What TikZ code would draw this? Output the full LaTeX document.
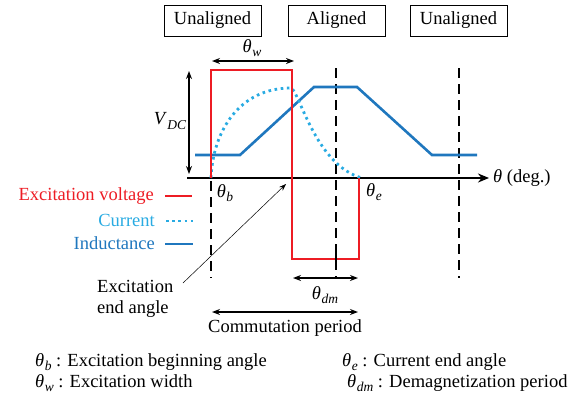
\documentclass[tikz,border=0pt]{standalone}
\usepackage{fontspec}
\setmainfont{Liberation Serif}
\newfontfamily\tnr{Liberation Serif}
\usetikzlibrary{arrows.meta}
\definecolor{exred}{RGB}{237,28,36}
\definecolor{curcyan}{RGB}{41,171,226}
\definecolor{indblue}{RGB}{31,119,190}
\newcommand\ang[1]{\textit{θ}\kern0.5pt\raisebox{-0.22em}{\fontsize{13.5}{14}\selectfont\textit{#1}}}
\begin{document}
\begin{tikzpicture}[x=1pt,y=-1pt,
  font=\tnr\fontsize{18.5}{21}\selectfont,
  statebox/.style={draw=black, line width=0.8pt, inner sep=0pt, minimum width=97pt, minimum height=31pt},
  dashline/.style={draw=black, line width=2.6pt, dash pattern=on 10pt off 6pt},
  voltline/.style={draw=exred, line width=2pt},
  indline/.style={draw=indblue, line width=2.6pt},
  curline/.style={draw=curcyan, line width=2.8pt, dash pattern=on 2.6pt off 3.6pt},
  axisline/.style={draw=black, line width=2.6pt, -{Stealth[length=11pt,width=9pt]}},
  dimarrow/.style={draw=black, line width=1.4pt, {Stealth[length=8pt,width=6pt]}-{Stealth[length=8pt,width=6pt]}},
  pointer/.style={draw=black, line width=0.5pt, -{Stealth[length=7pt,width=5pt]}},
  lbl/.style={inner sep=0pt}
]
\useasboundingbox (0,0) rectangle (586,399);

% state boxes
\node[statebox] (u1) at (212.5,20.5) {Unaligned};
\node[statebox] (al) at (336.5,20.5) {Aligned};
\node[statebox] (u2) at (458.5,20.5) {Unaligned};

% dashed position lines
\coordinate (d1t) at (211,69);  \coordinate (d1b) at (211,278);
\coordinate (d2t) at (336,68);  \coordinate (d2b) at (336,278);
\coordinate (d3t) at (459,68);  \coordinate (d3b) at (459,278);
\draw[dashline] (d1t) -- (d1b);
\draw[dashline] (d2t) -- (d2b);
\draw[dashline] (d3t) -- (d3b);

% axis
\coordinate (ax0) at (187,178);
\coordinate (ax1) at (489,178);
\draw[axisline] (ax0) -- (ax1);
\node[lbl, anchor=west] (axl) at (493,178) {\textit{θ} (deg.)};

% inductance
\coordinate (i0) at (195,155);
\coordinate (i1) at (240,155);
\coordinate (i2) at (314,87);
\coordinate (i3) at (357,87);
\coordinate (i4) at (432,155);
\coordinate (i5) at (477,155);
\draw[indline] (i0) -- (i1) -- (i2) -- (i3) -- (i4) -- (i5);

% current
\coordinate (c0) at (211,178);
\coordinate (cp) at (291,88);
\coordinate (c1) at (362,178);
\draw[curline] (c0) .. controls (213,130) and (240,88) .. (cp)
               .. controls (299,90) and (315,165) .. (c1);

% excitation voltage
\coordinate (v0) at (211,178);
\coordinate (v1) at (211,70);
\coordinate (v2) at (292,70);
\coordinate (v3) at (292,259);
\coordinate (v4) at (359,259);
\coordinate (v5) at (359,178);
\draw[voltline] (v0) -- (v1) -- (v2) -- (v3) -- (v4) -- (v5);
\draw[draw=black, line width=2.6pt] (336,252) -- (336,266);

% theta_w
\coordinate (w0) at (212,61);
\coordinate (w1) at (294,61);
\draw[dimarrow] (w0) -- (w1);
\node[lbl] (wl) at (252,48) {\ang{w}};

% V_DC
\coordinate (vd0) at (189,71);
\coordinate (vd1) at (189,174);
\draw[dimarrow] (vd0) -- (vd1);
\node[lbl] (vdl) at (170,121) {\textit{V}\kern0.5pt\raisebox{-0.22em}{\fontsize{13.5}{14}\selectfont\textit{DC}}};

% angle labels
\node[lbl] (tb) at (225,193) {\ang{b}};
\node[lbl] (te) at (374,192) {\ang{e}};

% legend
\node[lbl, anchor=east, text=exred] (lg1) at (154,196) {Excitation voltage};
\node[lbl, anchor=east, text=curcyan] (lg2) at (155,220) {Current};
\node[lbl, anchor=east, text=indblue] (lg3) at (155,243) {Inductance};
\coordinate (lr0) at (165,196); \coordinate (lr1) at (192,196);
\coordinate (lc0) at (166,221); \coordinate (lc1) at (193,221);
\coordinate (lb0) at (165,244); \coordinate (lb1) at (193,244);
\draw[voltline, line width=2.6pt] (lr0) -- (lr1);
\draw[curline] (lc0) -- (lc1);
\draw[indline] (lb0) -- (lb1);

% excitation end angle pointer
\node[lbl, anchor=west, align=left] (eea) at (97,299) {Excitation\\end angle};
\coordinate (pe0) at (183,283);
\coordinate (pe1) at (286,184);
\draw[pointer] (pe0) -- (pe1);

% theta_dm
\coordinate (dm0) at (293,278);
\coordinate (dm1) at (358,278);
\draw[dimarrow] (dm0) -- (dm1);
\node[lbl] (dml) at (325,295) {\ang{dm}};

% commutation period
\coordinate (cm0) at (212,312);
\coordinate (cm1) at (358,312);
\draw[dimarrow] (cm0) -- (cm1);
\node[lbl] (cml) at (285,328) {Commutation period};

% definitions
\node[lbl, anchor=west] (defb) at (35,362) {\ang{b} : Excitation beginning angle};
\node[lbl, anchor=west] (defw) at (35,383) {\ang{w} : Excitation width};
\node[lbl, anchor=west] (defe) at (342,362) {\ang{e} : Current end angle};
\node[lbl, anchor=west] (defdm) at (347,383) {\ang{dm} : Demagnetization period};
\end{tikzpicture}
\end{document}
